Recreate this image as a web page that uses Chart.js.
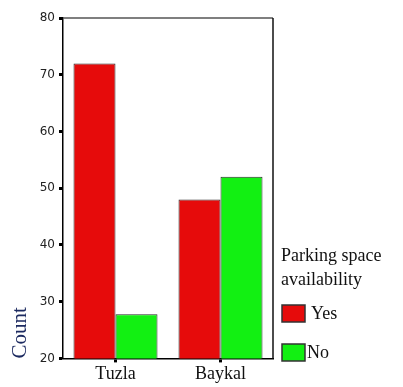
<!DOCTYPE html>
<html>
<head>
<meta charset="utf-8">
<script src="https://cdn.jsdelivr.net/npm/chart.js@4"></script>
<style>
  html, body { margin: 0; padding: 0; background: #fff; }
  #wrap { width: 403px; height: 387px; }
</style>
</head>
<body>
<div id="wrap"><canvas id="parkingChart"></canvas></div>
<script>
const sites = ['Tuzla', 'Baykal'];
const yesCounts = [72, 48];
const noCounts = [27.8, 52];
const legendTitle = ['Parking space', 'availability'];

// frame on top and right of plot area, plus the custom legend on the right
const framePlugin = {
    id: 'frame',
    afterDatasetsDraw(chart) {
        const a = chart.chartArea;
        const c = chart.ctx;
        c.save();
        c.lineWidth = 1.5;
        c.strokeStyle = '#555';
        c.beginPath();
        c.moveTo(a.left, a.top);
        c.lineTo(a.right, a.top);
        c.stroke();
        c.strokeStyle = '#111';
        c.beginPath();
        c.moveTo(a.right, a.top);
        c.lineTo(a.right, a.bottom);
        c.stroke();
        c.restore();
    },
    afterDraw(chart) {
        const c = chart.ctx;
        c.save();
        c.font = '18px "Liberation Serif", "Times New Roman", serif';
        c.fillStyle = '#111';
        c.textBaseline = 'alphabetic';
        c.fillText(legendTitle[0], 281, 261);
        c.fillText(legendTitle[1], 281, 285);
        const rows = [314, 353];
        chart.data.datasets.forEach((ds, i) => {
            const y = rows[i];
            c.fillStyle = ds.backgroundColor;
            c.fillRect(282, y - 9, 23, 17);
            c.strokeStyle = '#333';
            c.lineWidth = 1.5;
            c.strokeRect(282, y - 9, 23, 17);
            c.fillStyle = '#111';
            c.textBaseline = 'middle';
            c.fillText(ds.label, i === 0 ? 311 : 307, y);
        });
        c.restore();
    }
};

new Chart(document.getElementById('parkingChart'), {
    type: 'bar',
    data: {
        labels: sites,
        datasets: [
            {
                label: 'Yes',
                data: yesCounts,
                backgroundColor: '#e60b0b',
                borderColor: '#2a2a2a',
                borderWidth: 1
            },
            {
                label: 'No',
                data: noCounts,
                backgroundColor: '#12f012',
                borderColor: '#2a2a2a',
                borderWidth: 1
            }
        ]
    },
    options: {
        responsive: true,
        maintainAspectRatio: false,
        animation: false,
        layout: { padding: { top: 18, right: 130, left: 8, bottom: 0 } },
        plugins: {
            legend: { display: false },
            tooltip: { enabled: false }
        },
        datasets: {
            bar: { categoryPercentage: 0.8, barPercentage: 1 }
        },
        scales: {
            x: {
                grid: {
                    display: true,
                    drawOnChartArea: false,
                    offset: false,
                    tickLength: 4,
                    tickWidth: 3,
                    tickColor: '#000'
                },
                border: { display: true, color: '#000', width: 1.5 },
                ticks: {
                    color: '#111',
                    padding: 1.5,
                    font: { family: '"Liberation Serif", "Times New Roman", serif', size: 18 }
                }
            },
            y: {
                min: 20,
                max: 80,
                grid: {
                    display: true,
                    drawOnChartArea: false,
                    tickLength: 4,
                    tickWidth: 3,
                    tickColor: '#000'
                },
                border: { display: true, color: '#000', width: 1.5 },
                ticks: {
                    stepSize: 10,
                    color: '#222',
                    padding: 4,
                    font: { family: '"DejaVu Sans", sans-serif', size: 12 }
                },
                title: {
                    display: true,
                    text: 'Count',
                    align: 'start',
                    color: '#1c2a60',
                    padding: { top: 0, bottom: 12 },
                    font: { family: '"Liberation Serif", "Times New Roman", serif', size: 21 }
                },
                afterFit(scale) { scale.width = 55; }
            }
        }
    },
    plugins: [framePlugin]
});
</script>
</body>
</html>
